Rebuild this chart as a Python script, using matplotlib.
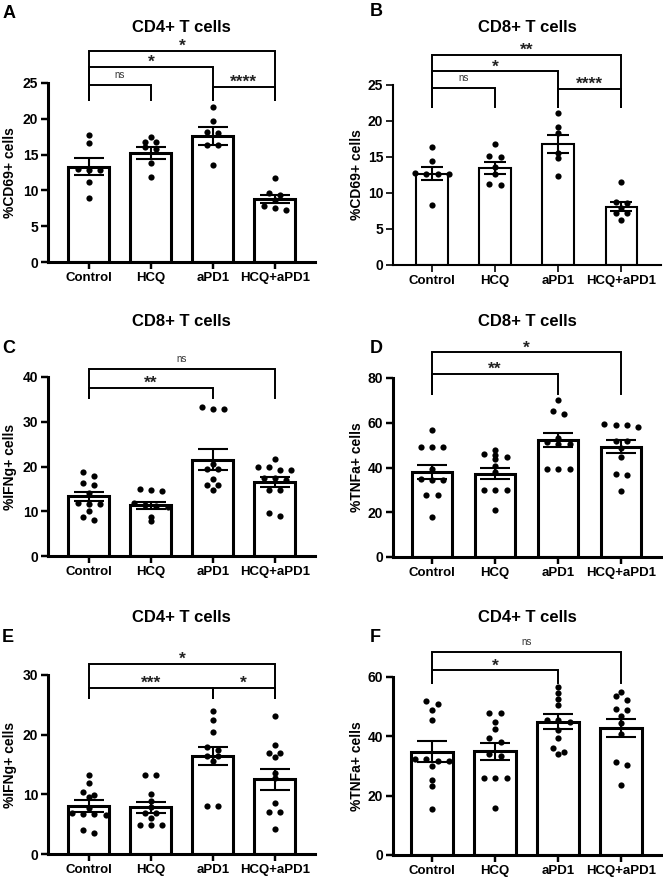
import matplotlib
matplotlib.use('Agg')
import matplotlib.pyplot as plt
import numpy as np

plt.rcParams['font.family'] = ['Liberation Sans', 'DejaVu Sans']
plt.rcParams['font.weight'] = 'bold'

W, H = 663, 877
groups = ['Control', 'HCQ', 'aPD1', 'HCQ+aPD1']

# Panel A - CD4+ %CD69+
a_means = [13.3, 15.2, 17.6, 8.8]
a_sems = [1.2, 0.8, 1.25, 0.6]
a_points = [[17.7, 16.6, 12.9, 13.0, 12.9, 11.2, 8.9],
            [17.5, 16.8, 16.7, 16.0, 15.8, 13.8, 11.9],
            [21.7, 19.7, 18.1, 18.0, 16.4, 16.3, 13.6],
            [11.8, 9.6, 9.4, 8.6, 7.8, 7.3, 7.6]]

# Panel B - CD8+ %CD69+
b_means = [12.7, 13.5, 16.8, 8.1]
b_sems = [0.95, 0.85, 1.3, 0.65]
b_points = [[16.4, 14.4, 12.8, 12.7, 12.7, 12.6, 8.3],
            [16.8, 15.0, 15.1, 13.6, 12.7, 11.1, 11.2],
            [21.1, 19.1, 18.3, 15.5, 14.8, 12.4],
            [11.5, 8.8, 8.6, 7.9, 7.2, 7.2, 6.2]]

# Panel C - CD8+ %IFNg+
c_means = [13.3, 11.3, 21.5, 16.6]
c_sems = [1.1, 0.7, 2.3, 1.1]
c_points = [[18.7, 17.9, 16.4, 15.9, 14.0, 11.8, 11.6, 11.6, 10.1, 8.8, 8.1],
            [14.9, 14.8, 14.6, 11.8, 11.4, 11.2, 11.0, 8.8, 7.9],
            [33.4, 32.8, 32.8, 20.6, 19.4, 19.4, 17.1, 15.9, 15.9, 14.8],
            [21.6, 20.0, 20.0, 19.3, 19.3, 17.4, 17.4, 17.0, 14.8, 14.8, 9.7, 8.9]]

# Panel D - CD8+ %TNFa+
d_means = [38.0, 37.2, 52.2, 49.3]
d_sems = [3.2, 2.4, 3.2, 2.9]
d_points = [[56.6, 49.2, 49.2, 49.2, 39.5, 35.0, 34.6, 34.6, 27.6, 27.6, 17.9],
            [48.0, 46.2, 45.5, 44.7, 44.0, 40.7, 38.0, 29.8, 29.8, 29.8, 20.9],
            [70.0, 65.3, 63.8, 53.2, 51.4, 50.7, 50.7, 39.5, 39.5, 39.5],
            [59.6, 59.2, 58.9, 58.1, 51.9, 51.9, 48.9, 44.7, 37.3, 36.8, 29.4]]

# Panel E - CD4+ %IFNg+
e_means = [8.0, 7.8, 16.4, 12.5]
e_sems = [1.0, 0.9, 1.5, 1.7]
e_points = [[13.2, 11.9, 10.4, 9.9, 9.6, 7.7, 6.8, 6.7, 6.7, 6.6, 4.0, 3.5],
            [13.3, 13.3, 10.0, 8.9, 7.8, 6.9, 6.9, 6.0, 4.8, 4.8, 4.8],
            [24.0, 22.5, 20.5, 18.0, 17.4, 16.4, 16.4, 15.6, 8.0, 8.0],
            [23.2, 18.3, 17.0, 17.0, 16.2, 13.5, 12.8, 8.5, 7.0, 7.0, 4.2]]

# Panel F - CD4+ %TNFa+
f_means = [34.8, 34.9, 44.9, 42.8]
f_sems = [3.5, 2.9, 2.5, 3.0]
f_points = [[51.8, 51.0, 48.8, 45.4, 32.5, 32.5, 31.6, 31.6, 29.9, 25.2, 23.3, 15.4],
            [47.7, 47.7, 44.9, 42.4, 39.3, 38.0, 34.2, 33.4, 25.8, 25.8, 25.8, 15.9],
            [56.6, 54.7, 52.7, 50.5, 45.4, 45.4, 44.9, 42.1, 39.3, 36.1, 34.8, 33.9],
            [55.0, 53.5, 52.4, 49.3, 48.8, 46.8, 44.6, 40.9, 31.4, 30.3, 23.6]]

# significance brackets: (group i, group j, bar height, leg bottom, label)
a_sig = [(0, 3, 29.5, 22.6, '*'), (0, 2, 27.2, 22.6, '*'), (0, 1, 24.7, 22.6, 'ns'), (2, 3, 24.5, 22.6, '****')]
b_sig = [(0, 3, 29.2, 22.0, '**'), (0, 2, 26.9, 22.0, '*'), (0, 1, 24.6, 22.0, 'ns'), (2, 3, 24.5, 22.0, '****')]
c_sig = [(0, 3, 41.8, 35.3, 'ns'), (0, 2, 37.5, 35.3, '**')]
d_sig = [(0, 3, 91.5, 73.0, '*'), (0, 2, 81.7, 73.0, '**')]
e_sig = [(0, 3, 31.8, 26.2, '*'), (0, 2, 27.8, 26.2, '***'), (2, 3, 27.8, 26.2, '*')]
f_sig = [(0, 3, 68.4, 58.0, 'ns'), (0, 2, 62.2, 58.0, '*')]


def swarm(vals, ymax, h_px, step=0.18, tol=4.0):
    # group near-equal values into rows and centre each row, like a column scatter
    vals = sorted(vals, reverse=True)
    rows = []
    for v in vals:
        if rows and (rows[-1][0] - v) / ymax * h_px < tol:
            rows[-1].append(v)
        else:
            rows.append([v])
    xs, ys = [], []
    for r in rows:
        n = len(r)
        for k, v in enumerate(r):
            xs.append((k - (n - 1) / 2) * step)
            ys.append(v)
    return np.array(xs), np.array(ys)


fig = plt.figure(figsize=(W / 100, H / 100), dpi=100)

# (letter, title, ylabel, means, sems, points, sig, ymax, ystep, box px [x0, x1, ytop, y0],
#  title y px, letter pos px, ylabel x px, bar width, bar lw, cap)
panels = [
    ('A', 'CD4+ T cells', '%CD69+ cells', a_means, a_sems, a_points, a_sig, 25, 5,
     [48, 315, 83, 262], 27, (3, 13), 17, 0.66, 2.2, 11),
    ('B', 'CD8+ T cells', '%CD69+ cells', b_means, b_sems, b_points, b_sig, 25, 5,
     [393, 661, 85, 265], 28, (370, 12), 364, 0.5, 1.5, 8),
    ('C', 'CD8+ T cells', '%IFNg+ cells', c_means, c_sems, c_points, c_sig, 40, 10,
     [48, 315, 377, 556], 322, (2, 348), 17, 0.66, 2.2, 11),
    ('D', 'CD8+ T cells', '%TNFa+ cells', d_means, d_sems, d_points, d_sig, 80, 20,
     [393, 661, 378, 557], 322, (370, 348), 364, 0.64, 2.2, 11),
    ('E', 'CD4+ T cells', '%IFNg+ cells', e_means, e_sems, e_points, e_sig, 30, 10,
     [48, 315, 675, 854], 618, (2, 637), 17, 0.66, 2.2, 11),
    ('F', 'CD4+ T cells', '%TNFa+ cells', f_means, f_sems, f_points, f_sig, 60, 20,
     [393, 661, 677, 855], 618, (370, 638), 364, 0.66, 2.2, 11),
]

for (letter, title, ylabel, means, sems, points, sig, ymax, ystep, box,
     title_y, letter_pos, ylab_x, bw, blw, cap) in panels:
    x0, x1, ytop, y0 = box
    ax = fig.add_axes([x0 / W, 1 - y0 / H, (x1 - x0) / W, (y0 - ytop) / H])
    h_px = y0 - ytop
    if x0 < 300:
        xlim = (-0.66, 3.65)
    else:
        xlim = (-0.62, 3.63)

    x = np.arange(len(groups))
    ax.bar(x, means, width=bw, color='white', edgecolor='black', linewidth=blw, zorder=1)
    for i, pts in enumerate(points):
        offs, vals = swarm(pts, ymax, h_px)
        ax.scatter(i + offs, vals, s=20, color='black', zorder=3, clip_on=False, linewidths=0)
    ax.errorbar(x, means, yerr=sems, fmt='none', ecolor='black', elinewidth=1.5,
                capsize=cap, capthick=1.5, zorder=4)

    for i, j, yb, yl, lab in sig:
        ax.plot([i, i, j, j], [yl, yb, yb, yl], color='black', lw=1.4, clip_on=False,
                solid_joinstyle='miter')
        if lab == 'ns':
            ax.annotate(lab, xy=((i + j) / 2, yb), xytext=(0, 5), textcoords='offset points',
                        ha='center', va='baseline', fontsize=7, fontweight='normal', color='#333333',
                        annotation_clip=False)
        else:
            ax.annotate(lab, xy=((i + j) / 2, yb), xytext=(0, 0), textcoords='offset points',
                        ha='center', va='baseline', fontsize=12.5, fontweight='bold', color='#222222',
                        annotation_clip=False)

    ax.set_xlim(*xlim)
    ax.set_ylim(0, ymax)
    ax.set_yticks(np.arange(0, ymax + 0.1, ystep))
    ax.set_xticks(x)
    ax.set_xticklabels(groups, fontsize=9.5, fontweight='bold')
    for t in ax.get_yticklabels():
        t.set_fontsize(10)
        t.set_fontweight('bold')
    ax.spines['top'].set_visible(False)
    ax.spines['right'].set_visible(False)
    ax.spines['left'].set_linewidth(blw)
    ax.spines['bottom'].set_linewidth(blw)
    ax.tick_params(axis='both', direction='out', length=5, width=blw * 0.8, pad=2)
    ax.set_ylabel(ylabel, fontsize=10, fontweight='bold')
    ax.yaxis.set_label_coords((ylab_x - x0) / (x1 - x0), 0.5)

    fig.text(((x0 + x1) / 2) / W, 1 - title_y / H, title, ha='center', va='center',
             fontsize=12, fontweight='bold')
    fig.text(letter_pos[0] / W, 1 - letter_pos[1] / H, letter, ha='left', va='center',
             fontsize=13, fontweight='bold')

plt.savefig('out.png', dpi=100)
plt.close()
